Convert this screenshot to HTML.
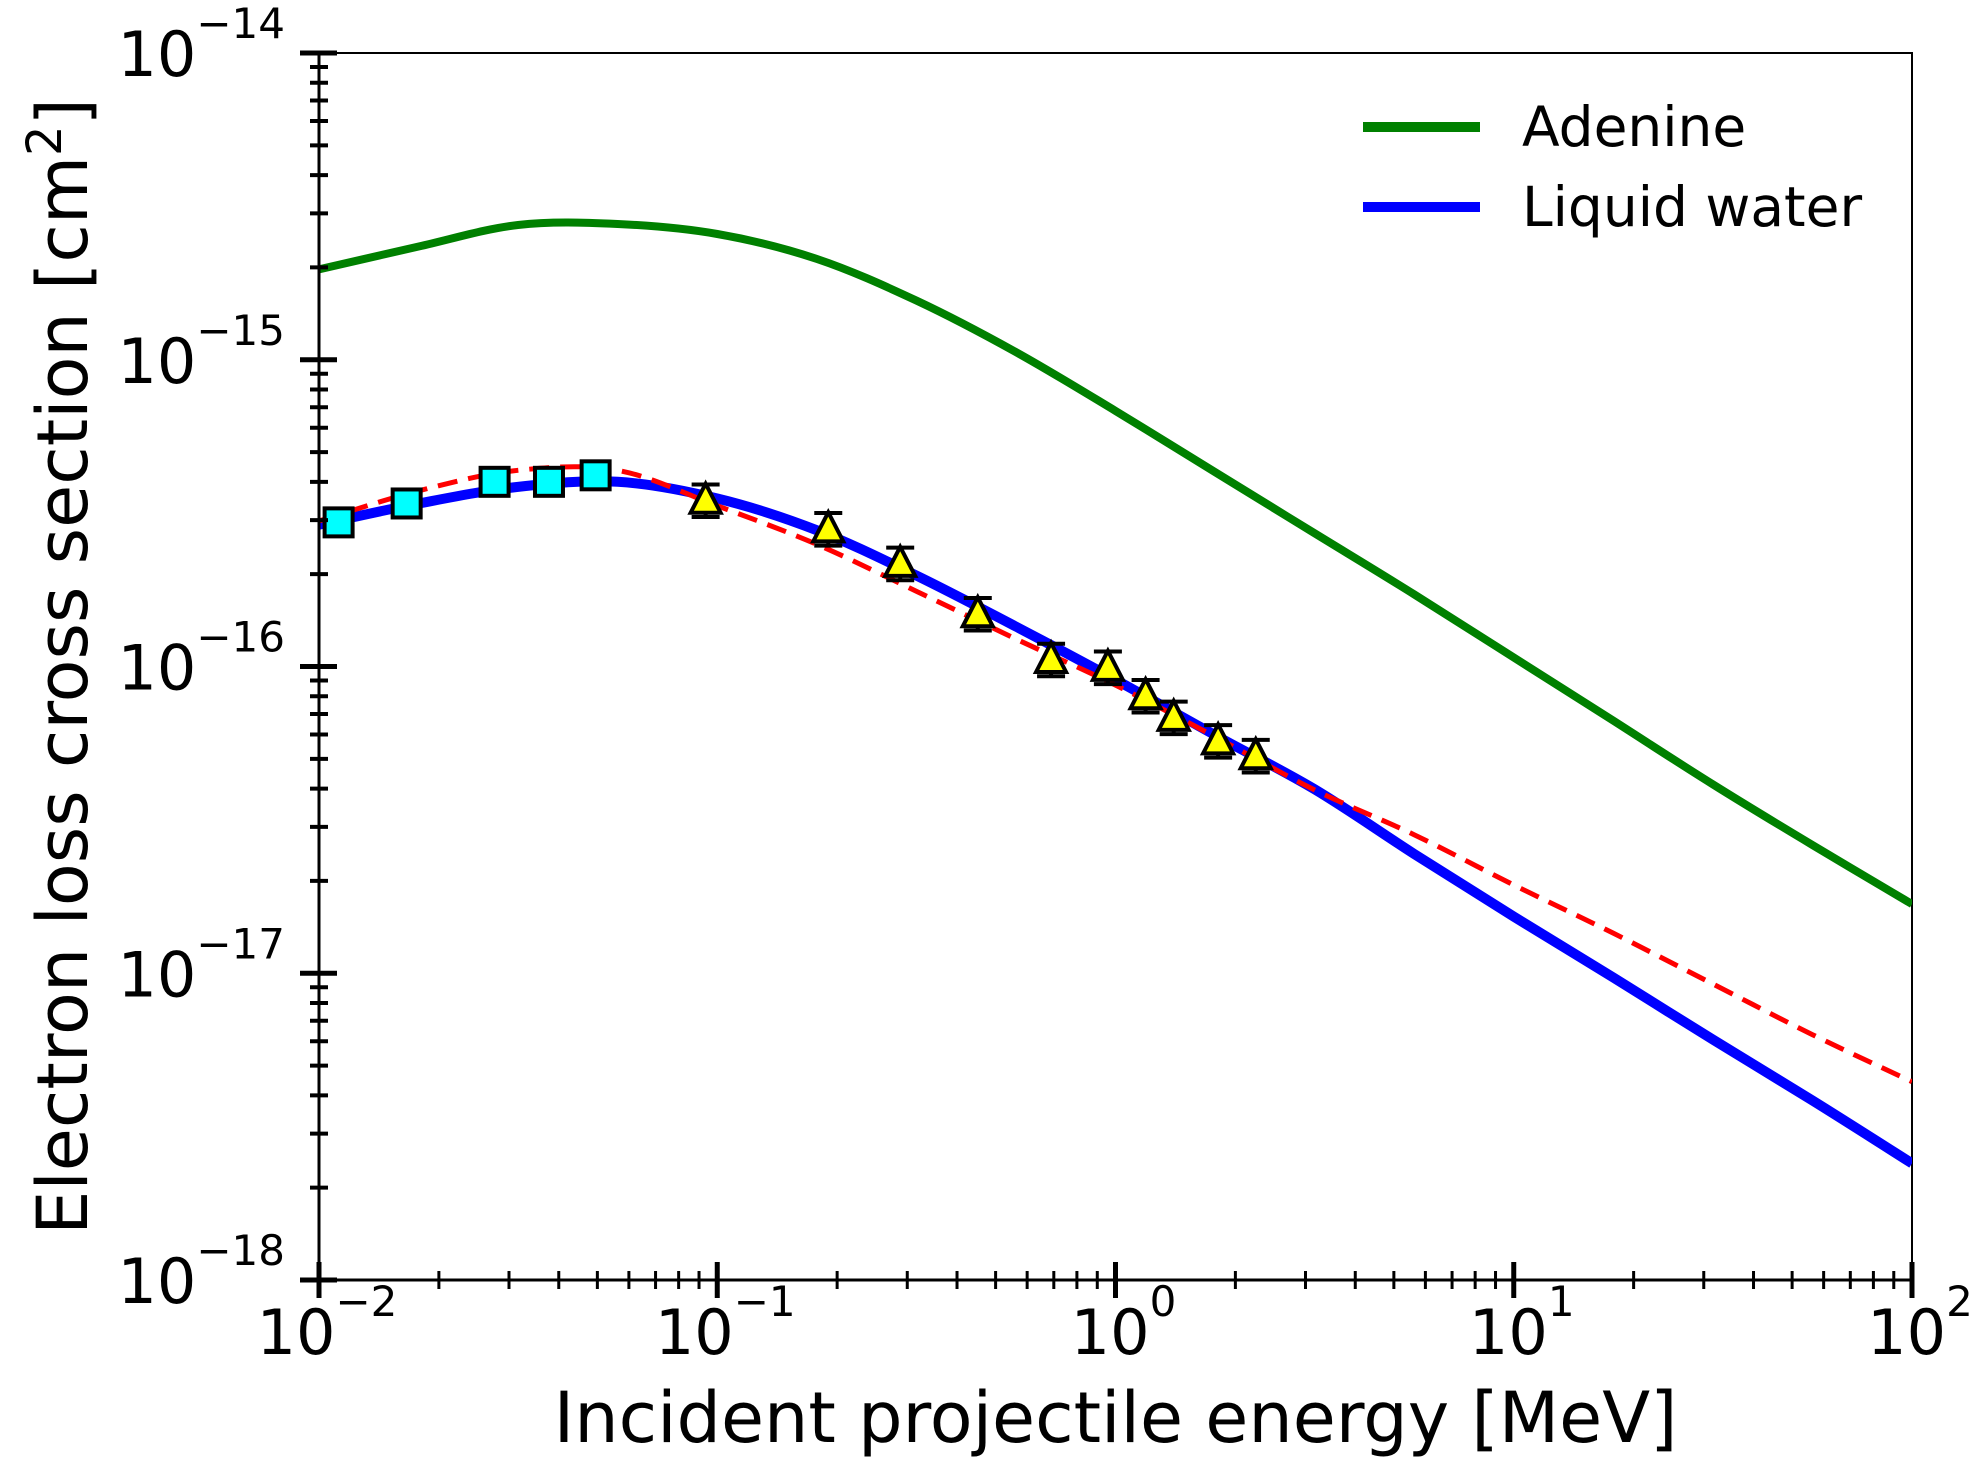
<!DOCTYPE html>
<html><head><meta charset="utf-8"><style>
html,body{margin:0;padding:0;background:#fff}
svg{display:block;font-family:"DejaVu Sans","Liberation Sans",sans-serif}
</style></head><body>
<svg id="chart" width="1983" height="1480" viewBox="0 0 1983 1480" xmlns="http://www.w3.org/2000/svg">
</svg>
<script>
const xTickExps = [-2, -1, 0, 1, 2];
const yTickExps = [-14, -15, -16, -17, -18];
const gridE = [0.01, 0.0178, 0.0316, 0.0562, 0.1, 0.178, 0.316, 0.562, 1, 1.78, 3.16, 5.62, 10, 17.8, 31.6, 56.2, 100];
const adenineS = [1.97e-15, 2.34e-15, 2.75e-15, 2.77e-15, 2.57e-15, 2.13e-15, 1.56e-15, 1.06e-15, 6.81e-16, 4.3e-16, 2.72e-16, 1.72e-16, 1.07e-16, 6.65e-17, 4.13e-17, 2.62e-17, 1.68e-17];
const waterS = [2.90e-16, 3.40e-16, 3.85e-16, 4.00e-16, 3.53e-16, 2.78e-16, 1.98e-16, 1.35e-16, 9.06e-17, 5.97e-17, 3.98e-17, 2.45e-17, 1.53e-17, 9.68e-18, 6.08e-18, 3.85e-18, 2.40e-18];
const dashedS = [2.98e-16, 3.74e-16, 4.36e-16, 4.36e-16, 3.34e-16, 2.50e-16, 1.76e-16, 1.23e-16, 8.7e-17, 5.9e-17, 3.96e-17, 2.83e-17, 1.94e-17, 1.35e-17, 9.23e-18, 6.31e-18, 4.43e-18];
const squareE = [0.0112, 0.0166, 0.0276, 0.0378, 0.0495];
const squareS = [2.95e-16, 3.4e-16, 4.0e-16, 4.0e-16, 4.2e-16];
const triE = [0.0935, 0.19, 0.288, 0.451, 0.689, 0.957, 1.19, 1.4, 1.81, 2.25];
const triS = [3.47e-16, 2.8e-16, 2.16e-16, 1.48e-16, 1.05e-16, 9.9e-17, 8.0e-17, 6.8e-17, 5.7e-17, 5.1e-17];
const triErr = [0.13, 0.13, 0.13, 0.13, 0.13, 0.13, 0.13, 0.13, 0.13, 0.13];

const L=319,R=1912,T=53,B=1280;
const xMin=-2,xMax=2,yMin=-18,yMax=-14;
function xs(v){return L+(Math.log10(v)-xMin)/(xMax-xMin)*(R-L);}
function ys(v){return B-(Math.log10(v)-yMin)/(yMax-yMin)*(B-T);}
const NS="http://www.w3.org/2000/svg";
const svg=document.getElementById('chart');
function mk(tag,attrs,parent){const e=document.createElementNS(NS,tag);for(const k in attrs)e.setAttribute(k,attrs[k]);(parent||svg).appendChild(e);return e;}

let fr=mk('rect',{x:L,y:T,width:R-L,height:B-T,fill:'none',stroke:'#000','stroke-width':2});



function smooth(E,S){
  const p=E.map((e,i)=>[xs(e),ys(S[i])]);
  let d='M'+p[0][0].toFixed(1)+' '+p[0][1].toFixed(1);
  for(let i=0;i<p.length-1;i++){
    const p0=p[Math.max(0,i-1)],p1=p[i],p2=p[i+1],p3=p[Math.min(p.length-1,i+2)];
    const c1=[p1[0]+(p2[0]-p0[0])/6,p1[1]+(p2[1]-p0[1])/6];
    const c2=[p2[0]-(p3[0]-p1[0])/6,p2[1]-(p3[1]-p1[1])/6];
    d+=' C'+c1[0].toFixed(1)+' '+c1[1].toFixed(1)+' '+c2[0].toFixed(1)+' '+c2[1].toFixed(1)+' '+p2[0].toFixed(1)+' '+p2[1].toFixed(1);
  }
  return d;
}
let clip=mk('clipPath',{id:'clp'});
mk('rect',{x:L,y:T,width:R-L,height:B-T},clip);

let g1=mk('path',{d:smooth(gridE,adenineS),fill:'none',stroke:'#008000','stroke-width':8,'clip-path':'url(#clp)'});


let g2=mk('path',{d:smooth(gridE,waterS),fill:'none',stroke:'#0000ff','stroke-width':10,'clip-path':'url(#clp)'});


let g3=mk('path',{d:smooth(gridE,dashedS),fill:'none',stroke:'#ff0000','stroke-width':5,'stroke-dasharray':'20 11','clip-path':'url(#clp)'});



squareE.forEach((e,i)=>{
  const cx=xs(e),cy=ys(squareS[i]);
  const r=mk('rect',{x:cx-14,y:cy-14,width:28,height:28,fill:'#00ffff',stroke:'#000','stroke-width':4});
  
  
});
triE.forEach((e,i)=>{
  const cx=xs(e),cy=ys(triS[i]);
  const yt=ys(triS[i]*(1+triErr[i])),yb=ys(triS[i]/(1+triErr[i]));
  const eb=mk('path',{d:`M${cx} ${yb} L${cx} ${yt} M${cx-14} ${yt} L${cx+14} ${yt} M${cx-14} ${yb} L${cx+14} ${yb}`,stroke:'#000','stroke-width':4,fill:'none'});
  
  
  const t=mk('polygon',{points:`${cx},${cy-17} ${cx+15},${cy+12} ${cx-15},${cy+12}`,fill:'#ffff00',stroke:'#000','stroke-width':4});
  
  
});

let ax=mk('g',{stroke:'#000'});


mk('line',{x1:L,y1:T,x2:L,y2:B,'stroke-width':3},ax);
yTickExps.forEach(ex=>{
  const y=ys(Math.pow(10,ex));
  mk('line',{x1:L-19,x2:L+18,y1:y,y2:y,'stroke-width':5},ax);
  if(ex>yMin) for(let m=2;m<10;m++){const yy=ys(m*Math.pow(10,ex-1));mk('line',{x1:L-9,x2:L+9,y1:yy,y2:yy,'stroke-width':4},ax);}
  const t=mk('text',{x:285,y:y+23,'text-anchor':'end','font-size':62,fill:'#000'});
  
  
  t.innerHTML='10<tspan font-size="42" dy="-38">\u2212'+(-ex)+'</tspan>';
});
let xa=mk('g',{stroke:'#000'});


mk('line',{x1:L,y1:B,x2:R,y2:B,'stroke-width':3},xa);
xTickExps.forEach(ex=>{
  const x=xs(Math.pow(10,ex));
  mk('line',{x1:x,x2:x,y1:B-18,y2:B+18,'stroke-width':5},xa);
  if(ex<xMax) for(let m=2;m<10;m++){const xx=xs(m*Math.pow(10,ex));mk('line',{x1:xx,x2:xx,y1:B-9,y2:B+9,'stroke-width':3},xa);}
  const t=mk('text',{x:x+8,y:1354,'text-anchor':'middle','font-size':62,fill:'#000'});
  
  
  t.innerHTML='10<tspan font-size="42" dy="-38">'+(ex<0?'\u2212'+(-ex):ex)+'</tspan>';
});

let xt=mk('text',{x:(L+R)/2,y:1442,'text-anchor':'middle','font-size':70,fill:'#000'});


xt.textContent='Incident projectile energy [MeV]';
let yt=mk('text',{x:0,y:0,'text-anchor':'middle','font-size':70,fill:'#000',transform:`translate(87,${(T+B)/2}) rotate(-90)`});


yt.innerHTML='Electron loss cross section [cm<tspan font-size="48" dy="-26">2</tspan><tspan dy="26">]</tspan>';

let lg=mk('g',{});


let l1=mk('line',{x1:1363,x2:1480,y1:127,y2:127,stroke:'#008000','stroke-width':10},lg);


let t1=mk('text',{x:1522,y:146,'font-size':55,fill:'#000'},lg);


t1.textContent='Adenine';
let l2=mk('line',{x1:1363,x2:1480,y1:207,y2:207,stroke:'#0000ff','stroke-width':10},lg);


let t2=mk('text',{x:1522,y:226,'font-size':55,fill:'#000'},lg);


t2.textContent='Liquid water';
</script>
</body></html>
